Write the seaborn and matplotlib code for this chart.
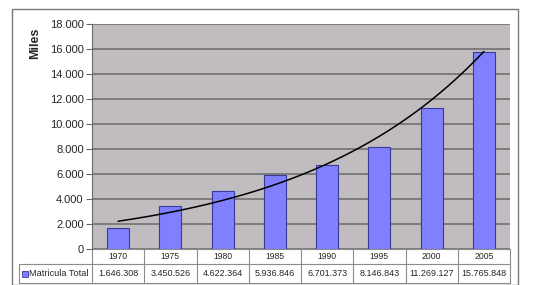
import numpy as np
import pandas as pd
import matplotlib
matplotlib.use("Agg")
import matplotlib.pyplot as plt
import seaborn as sns
from matplotlib.patches import Rectangle
from matplotlib.lines import Line2D

years = ["1970", "1975", "1980", "1985", "1990", "1995", "2000", "2005"]
miles = [1646.308, 3450.526, 4622.364, 5936.846, 6701.373, 8146.843, 11269.127, 15765.848]
table_labels = ["1.646.308", "3.450.526", "4.622.364", "5.936.846",
                "6.701.373", "8.146.843", "11.269.127", "15.765.848"]
series_name = "Matricula Total"

sns.set_style("white")
plt.rcParams["font.family"] = ["Liberation Sans", "DejaVu Sans"]

bar_color = "#8080ff"
edge_color = "#3a3a9a"
grid_color = "#6a6a6a"
line_color = "#8c8c8c"

df = pd.DataFrame({"year": years, "miles": miles})

W, H = 548, 285
fig = plt.figure(figsize=(W / 100, H / 100), dpi=100)
fig.patch.set_facecolor("white")

# outer chart border
fig.patches.append(Rectangle((12 / W, 0), (518 - 12) / W, (H - 9) / H,
                             transform=fig.transFigure, fill=False,
                             edgecolor="#7a7a7a", linewidth=1.0))

left, right, top, bottom = 92, 510, 24, 249
ax = fig.add_axes([left / W, (H - bottom) / H, (right - left) / W, (bottom - top) / H])
ax.set_facecolor("#c0bcc0")

sns.barplot(data=df, x="year", y="miles", color=bar_color, width=0.42,
            edgecolor=edge_color, linewidth=0.8, saturation=1, ax=ax, zorder=3)

# exponential trend line fitted to the series
idx = np.arange(len(miles))
k, b = np.polyfit(idx, np.log(miles), 1)
xs = np.linspace(0, len(miles) - 1, 200)
ax.plot(xs, np.exp(k * xs + b), color="black", linewidth=1.1, zorder=4)

ax.set_xlim(-0.5, len(years) - 0.5)
ax.set_ylim(0, 18000)
yt = np.arange(0, 18001, 2000)
ax.set_yticks(yt)
ax.set_yticklabels([f"{v:,.0f}".replace(",", ".") for v in yt], fontsize=8)
ax.yaxis.grid(True, color=grid_color, linewidth=1.1, zorder=0)
ax.set_axisbelow(True)
ax.tick_params(axis="y", length=4, width=0.8, color=grid_color, pad=2, left=True)
ax.set_xticks([])
ax.set_xlabel("")
ax.set_ylabel("")
for s in ["top", "right", "bottom"]:
    ax.spines[s].set_visible(False)
ax.spines["left"].set_color(grid_color)
ax.spines["left"].set_linewidth(0.8)

fig.text(35 / W, (H - 43) / H, "Miles", rotation=90, fontsize=9,
         fontweight="bold", ha="center", va="center")

# data table under the axis
ph = bottom - top
r1 = -15 / ph
r2 = -34 / ph
lab_x = -(left - 19) / (right - left)
n = len(years)
tr = ax.transAxes
kw = dict(transform=tr, clip_on=False, color=line_color, linewidth=0.8)
ax.add_patch(Rectangle((0, r1), 1, -r1, transform=tr, clip_on=False,
                       facecolor="white", edgecolor="none", zorder=1))
ax.add_patch(Rectangle((lab_x, r2), 1 - lab_x, r1 - r2, transform=tr, clip_on=False,
                       facecolor="white", edgecolor="none", zorder=1))
for yy in [0, r1]:
    ax.add_line(Line2D([lab_x if yy == r1 else 0, 1], [yy, yy], **kw))
ax.add_line(Line2D([lab_x, 1], [r2, r2], **kw))
ax.add_line(Line2D([lab_x, lab_x], [r1, r2], **kw))
for i in range(n + 1):
    ax.add_line(Line2D([i / n, i / n], [0, r2], **kw))
for i in range(n):
    cx = (i + 0.5) / n
    ax.text(cx, r1 / 2, years[i], transform=tr, ha="center", va="center", fontsize=6.2)
    ax.text(cx, (r1 + r2) / 2, table_labels[i], transform=tr, ha="center",
            va="center", fontsize=6.5)
sq = 6 / (right - left)
sq_h = 6 / ph
ax.add_patch(Rectangle((lab_x + 3 / (right - left), (r1 + r2) / 2 - sq_h / 2), sq, sq_h,
                       transform=tr, clip_on=False, facecolor=bar_color,
                       edgecolor=edge_color, linewidth=0.6))
ax.text(lab_x + 10 / (right - left), (r1 + r2) / 2, series_name, transform=tr,
        ha="left", va="center", fontsize=6.6)

fig.savefig("out.png", dpi=100)
